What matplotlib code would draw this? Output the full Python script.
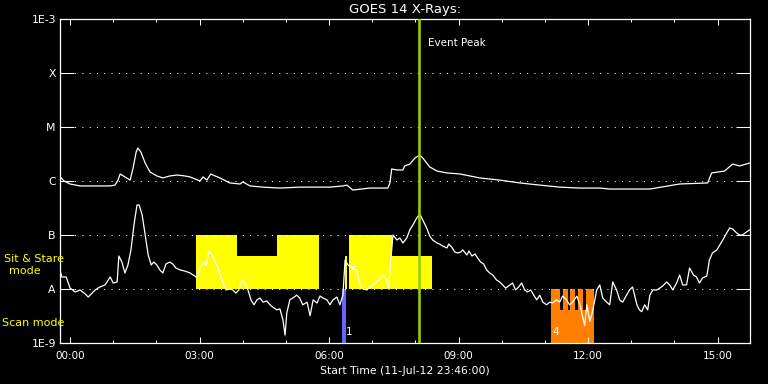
import matplotlib.pyplot as plt
import numpy as np

# hours after 00:00 on 12-Jul-12 (plot starts 11-Jul-12 23:46)
long_t = [-0.23, -0.14, 0.0, 0.23, 0.46, 0.69, 0.93, 1.04, 1.11, 1.16,
          1.27, 1.39, 1.46, 1.53, 1.57, 1.64, 1.74, 1.85, 2.01, 2.15,
          2.31, 2.48, 2.66, 2.78, 3.01, 3.08, 3.17, 3.26, 3.36, 3.47,
          3.70, 3.94, 4.00, 4.17, 4.47, 4.86, 5.32, 6.02, 6.32, 6.41,
          6.55, 6.94, 7.36, 7.41, 7.45, 7.57, 7.71, 7.75, 7.87, 7.99,
          8.10, 8.17, 8.26, 8.33, 8.50, 8.73, 9.03, 9.49, 9.95, 10.42,
          10.88, 11.34, 11.81, 12.27, 12.50, 13.43, 14.12, 14.77, 14.86, 15.16,
          15.35, 15.51, 15.74]
# 1-8 A flux, units of 1e-6 W/m2
long_flux = [1.19, 1.0, 0.88, 0.81, 0.81, 0.81, 0.81, 0.84, 1.04, 1.35,
             1.19, 1.04, 1.74, 3.44, 4.08, 3.44, 2.15, 1.47, 1.24, 1.14,
             1.24, 1.29, 1.24, 1.19, 1.0, 1.19, 1.04, 1.35, 1.24, 1.14,
             0.92, 0.88, 0.96, 0.81, 0.77, 0.74, 0.77, 0.77, 0.81, 0.84,
             0.68, 0.74, 0.74, 0.92, 1.67, 1.60, 1.60, 1.90, 2.06, 2.67,
             3.03, 2.67, 2.15, 1.82, 1.53, 1.41, 1.35, 1.14, 1.04, 0.92,
             0.84, 0.77, 0.74, 0.74, 0.71, 0.71, 0.88, 0.92, 1.41, 1.53,
             2.06, 1.90, 2.15]

short_t = [-0.23, -0.19, -0.09, 0.0, 0.12, 0.23, 0.35, 0.42, 0.58, 0.69,
           0.81, 0.93, 1.00, 1.09, 1.13, 1.20, 1.27, 1.34, 1.41, 1.48,
           1.55, 1.60, 1.67, 1.74, 1.81, 1.88, 1.94, 2.01, 2.08, 2.15,
           2.22, 2.31, 2.38, 2.45, 2.55, 2.66, 2.78, 2.89, 2.94, 3.01,
           3.08, 3.15, 3.22, 3.29, 3.36, 3.43, 3.47, 3.52, 3.61, 3.70,
           3.77, 3.84, 3.91, 3.98, 4.05, 4.12, 4.19, 4.26, 4.33, 4.40,
           4.47, 4.56, 4.63, 4.70, 4.79, 4.86, 4.93, 4.98, 5.02, 5.09,
           5.16, 5.25, 5.32, 5.39, 5.49, 5.56, 5.63, 5.72, 5.79, 5.86,
           5.95, 6.02, 6.09, 6.18, 6.25, 6.32, 6.37, 6.44, 6.53, 6.64,
           6.71, 6.78, 6.88, 6.94, 7.01, 7.11, 7.18, 7.25, 7.34, 7.38,
           7.43, 7.48, 7.57, 7.64, 7.71, 7.80, 7.87, 7.94, 8.03, 8.10,
           8.17, 8.26, 8.33, 8.40, 8.50, 8.56, 8.63, 8.73, 8.77, 8.84,
           8.91, 8.98, 9.05, 9.10, 9.19, 9.24, 9.31, 9.38, 9.44, 9.51,
           9.58, 9.65, 9.72, 9.79, 9.88, 9.95, 10.02, 10.09, 10.19, 10.25,
           10.32, 10.39, 10.46, 10.53, 10.60, 10.67, 10.74, 10.81, 10.88, 10.95,
           11.04, 11.11, 11.18, 11.27, 11.34, 11.41, 11.50, 11.57, 11.64, 11.74,
           11.81, 11.88, 11.92, 11.97, 12.04, 12.11, 12.20, 12.27, 12.34, 12.43,
           12.50, 12.57, 12.66, 12.73, 12.80, 12.89, 12.96, 13.03, 13.13, 13.19,
           13.24, 13.31, 13.38, 13.43, 13.50, 13.59, 13.66, 13.73, 13.82, 13.89,
           13.96, 14.05, 14.12, 14.19, 14.28, 14.35, 14.44, 14.51, 14.58, 14.65,
           14.75, 14.81, 14.88, 14.98, 15.05, 15.12, 15.21, 15.28, 15.35, 15.44,
           15.51, 15.58, 15.67, 15.74]
# 0.5-4 A flux, units of 1e-8 W/m2
short_flux = [2.15, 1.67, 1.67, 1.04, 0.88, 0.96, 0.81, 0.71, 0.96, 1.09,
              1.19, 1.67, 1.29, 1.35, 4.08, 3.16, 1.98, 2.78, 5.28, 15.3,
              35.9, 35.9, 23.5, 10.0, 4.26, 2.78, 3.16, 2.78, 2.25, 1.98,
              2.90, 3.16, 2.90, 2.45, 2.25, 2.15, 1.98, 1.74, 1.60, 2.45,
              3.16, 2.78, 5.05, 4.26, 3.16, 2.45, 1.90, 1.47, 0.96, 1.0,
              0.96, 0.84, 0.96, 1.47, 1.29, 0.96, 0.63, 0.51, 0.63, 0.68,
              0.57, 0.60, 0.51, 0.46, 0.41, 0.43, 0.27, 0.14, 0.36, 0.63,
              0.68, 0.77, 0.68, 0.51, 0.57, 0.32, 0.63, 0.55, 0.74, 0.68,
              0.63, 0.51, 0.63, 0.71, 0.51, 0.77, 3.44, 2.78, 2.45, 2.25,
              1.19, 1.0, 0.96, 1.09, 1.19, 1.35, 1.60, 1.82, 1.47, 1.04,
              3.44, 10.0, 8.08, 8.80, 7.11, 8.80, 12.4, 15.3, 20.6, 24.5,
              19.0, 13.5, 9.58, 8.08, 7.11, 6.81, 6.26, 5.75, 6.81, 6.00,
              4.84, 4.64, 4.84, 5.28, 4.26, 5.05, 4.08, 4.45, 3.75, 3.16,
              2.90, 2.25, 1.98, 1.82, 1.47, 1.35, 1.19, 1.04, 1.19, 1.29,
              0.96, 1.09, 1.29, 0.96, 0.88, 0.96, 0.77, 0.63, 0.77, 0.57,
              0.51, 0.57, 0.55, 0.63, 0.57, 0.74, 0.63, 0.51, 0.57, 0.74,
              0.51, 0.29, 0.21, 0.51, 0.25, 0.41, 0.96, 1.19, 0.68, 0.57,
              0.51, 1.35, 0.96, 0.63, 0.57, 0.77, 0.96, 1.09, 0.51, 0.41,
              0.38, 0.51, 0.41, 0.77, 0.96, 0.96, 1.04, 1.14, 1.35, 1.19,
              0.96, 1.29, 1.82, 1.19, 1.19, 2.45, 1.82, 1.67, 1.29, 1.60,
              1.74, 3.44, 4.64, 5.28, 6.53, 8.08, 10.9, 13.5, 12.9, 10.9,
              10.0, 10.0, 11.4, 12.4]

# Sit & Stare blocks (start, end, top flux), all start at 1e-8
stare_start = [2.92, 3.87, 4.79, 6.37, 6.46, 7.45]
stare_end = [3.87, 4.79, 5.76, 6.41, 7.45, 8.38]
stare_top = [1e-7, 4.1e-8, 1e-7, 4.1e-8, 1e-7, 4.1e-8]

# Scan mode blocks, start at 1e-9
scan_start = [11.13, 11.13, 11.41, 11.57, 11.76, 11.94]
scan_end = [12.13, 11.34, 11.53, 11.69, 11.88, 12.13]
scan_top = [4.1e-9, 1e-8, 1e-8, 1e-8, 1e-8, 1e-8]
blue_start, blue_end = 6.30, 6.39

event_peak = 8.08

xtick_pos = [0, 3, 6, 9, 12, 15]
xtick_labels = ['00:00', '03:00', '06:00', '09:00', '12:00', '15:00']
ytick_pos = [1e-9, 1e-8, 1e-7, 1e-6, 1e-5, 1e-4, 1e-3]
ytick_labels = ['1E-9', 'A', 'B', 'C', 'M', 'X', '1E-3']

plt.rcParams['font.family'] = 'DejaVu Sans'
fig = plt.figure(figsize=(7.68, 3.84), dpi=100, facecolor='black')
ax = fig.add_axes([60/768, 41/384, 690/768, 324/384], facecolor='black')

# mode bars
s0 = np.array(stare_start)
ax.bar(s0, np.array(stare_top) - 1e-8, np.array(stare_end) - s0, bottom=1e-8,
       align='edge', color='#ffff00', linewidth=0, zorder=1)
c0 = np.array(scan_start)
ax.bar(c0, np.array(scan_top) - 1e-9, np.array(scan_end) - c0, bottom=1e-9,
       align='edge', color='#ff8000', linewidth=0, zorder=1)
ax.bar(blue_start, 1e-8 - 1e-9, blue_end - blue_start, bottom=1e-9,
       align='edge', color='#6464ff', linewidth=0, zorder=1)

for lvl in ytick_pos[1:-1]:
    ax.axhline(lvl, color='white', lw=0.75, ls=(0, (1, 6)), zorder=2)

ax.plot(long_t, np.array(long_flux) * 1e-6, color='white', lw=0.9, zorder=3)
ax.plot(short_t, np.array(short_flux) * 1e-8, color='white', lw=0.9, zorder=3)

ax.axvline(event_peak, color='#99cc00', lw=1.9, zorder=4)
ax.text(event_peak + 0.21, 0.925, 'Event Peak', color='white', fontsize=7.5,
        transform=ax.get_xaxis_transform(), va='center')

ax.text(blue_start + 0.08, 1.6e-9, '1', color='white', fontsize=7.5, va='center', zorder=5)
ax.text(scan_start[0] + 0.05, 1.6e-9, '4', color='white', fontsize=7.5, va='center', zorder=5)
ax.text(stare_start[4] + 0.02, 2.15e-8, '5', color='white', fontsize=7.5, va='center', zorder=5)

ax.set_yscale('log')
ax.set_ylim(1e-9, 1e-3)
ax.set_xlim(-14/60, 15.75)
ax.set_yticks(ytick_pos)
ax.set_yticklabels(ytick_labels)
ax.yaxis.set_minor_locator(plt.NullLocator())
ax.set_xticks(xtick_pos)
ax.set_xticklabels(xtick_labels)
ax.set_xticks(np.arange(0, 16, 1), minor=True)

ax.tick_params(axis='y', which='both', direction='in', length=10, width=0.75,
               color='white', labelcolor='white', labelsize=7.8, right=True, pad=3)
ax.tick_params(axis='x', which='major', direction='in', length=4.5, width=0.75,
               color='white', labelcolor='white', labelsize=7.5, top=True, pad=6)
ax.tick_params(axis='x', which='minor', direction='in', length=2.3, width=0.75,
               color='white', top=True)
for sp in ax.spines.values():
    sp.set_color('white')
    sp.set_linewidth(0.9)

ax.set_title('GOES 14 X-Rays:', color='white', fontsize=9.5, pad=4)
ax.set_xlabel('Start Time (11-Jul-12 23:46:00)', color='white', fontsize=7.8, labelpad=3)

fig.text(34/768, 1 - 259/384, 'Sit & Stare', color='#ffff00', fontsize=8,
         ha='center', va='center')
fig.text(24.5/768, 1 - 271/384, 'mode', color='#ffff00', fontsize=8,
         ha='center', va='center')
fig.text(2/768, 1 - 323/384, 'Scan mode', color='#ffff00', fontsize=8,
         ha='left', va='center')

fig.savefig('out.png', dpi=100, facecolor='black')
